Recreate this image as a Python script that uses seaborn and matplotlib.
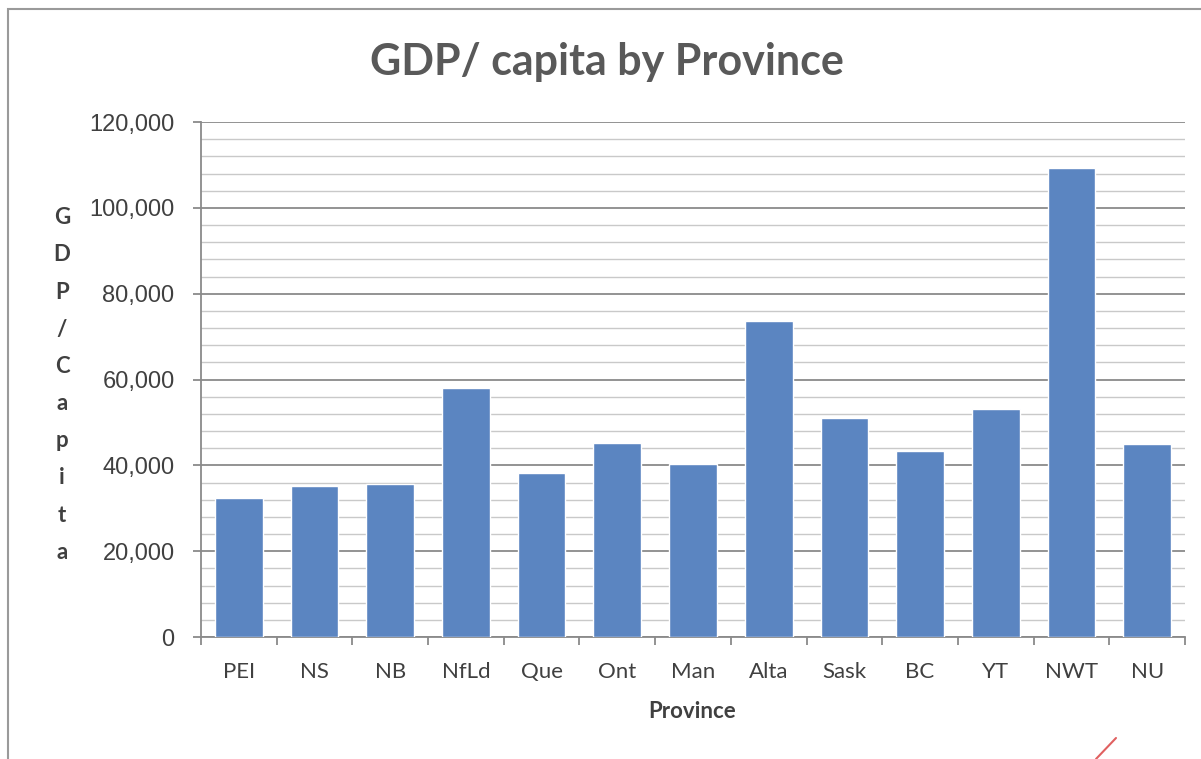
import matplotlib
matplotlib.use("Agg")
import matplotlib.pyplot as plt
import seaborn as sns
import pandas as pd
import numpy as np
from matplotlib.patches import Rectangle
from matplotlib.lines import Line2D

# Data
provinces = ["PEI", "NS", "NB", "NfLd", "Que", "Ont", "Man", "Alta", "Sask", "BC", "YT", "NWT", "NU"]
gdp_per_capita = [32500, 35200, 35700, 58000, 38200, 45200, 40400, 73700, 51000, 43400, 53100, 109300, 45000]
y_major = [0, 20000, 40000, 60000, 80000, 100000, 120000]
y_minor_step = 4000

BAR_COLOR = "#5b85c1"
TEXT_COLOR = "#404040"
TITLE_COLOR = "#595959"

sns.set_style("white")
plt.rcParams["font.family"] = ["Liberation Sans", "DejaVu Sans"]

df = pd.DataFrame({"Province": provinces, "GDP": gdp_per_capita})

fig = plt.figure(figsize=(12.01, 7.59), dpi=100)
ax = fig.add_axes([201 / 1201, 1 - 637 / 759, (1185 - 201) / 1201, (637 - 122) / 759])

sns.barplot(data=df, x="Province", y="GDP", color=BAR_COLOR, saturation=1,
            width=0.63, ax=ax, zorder=3)

# axes & grid
ax.set_ylim(0, 120000)
ax.set_xlim(-0.5, len(provinces) - 0.5)
ax.set_yticks(y_major)
ax.set_yticks(np.arange(0, 120001, y_minor_step), minor=True)
ax.set_yticklabels([f"{v:,}" for v in y_major], fontsize=17, color=TEXT_COLOR)
ax.grid(which="major", axis="y", color="#8a8a8a", lw=1.3, zorder=0)
ax.grid(which="minor", axis="y", color="#c9c9c9", lw=1.0, zorder=0)
ax.tick_params(axis="y", which="major", left=True, length=6, width=1.3,
               color="#8a8a8a", pad=13)
ax.tick_params(axis="y", which="minor", left=False, length=0)

ax.set_xticks(range(len(provinces)))
ax.set_xticklabels(provinces, fontsize=16, color=TEXT_COLOR, family=["Lato", "DejaVu Sans"])
ax.set_xticks(np.arange(-0.5, len(provinces)), minor=True)
ax.tick_params(axis="x", which="major", bottom=False, length=0, pad=18)
ax.tick_params(axis="x", which="minor", bottom=True, length=6, width=1.3,
               color="#8a8a8a", direction="out")

for side in ["top", "right"]:
    ax.spines[side].set_visible(False)
for side in ["left", "bottom"]:
    ax.spines[side].set_color("#8a8a8a")
    ax.spines[side].set_linewidth(1.3)

ax.set_xlabel("")
ax.set_ylabel("")

# labels
fig.text(607 / 1201, 1 - 62 / 759, "GDP/ capita by Province", ha="center", va="center",
         fontsize=31, fontweight="bold", color=TITLE_COLOR, family=["Lato", "DejaVu Sans"])
fig.text(692 / 1201, 1 - 712 / 759, "Province", ha="center", va="center",
         fontsize=16, fontweight="bold", color=TEXT_COLOR, family=["Lato", "DejaVu Sans"])
fig.text(62 / 1201, 1 - 385 / 759, "\n".join("GDP/Capita"), ha="center", va="center",
         fontsize=16, fontweight="bold", color=TEXT_COLOR, linespacing=1.95,
         family=["Lato", "DejaVu Sans"])

# outer chart frame from the scan
fig.add_artist(Rectangle((8 / 1201, -0.1), 1.2, 1.1 - 9 / 759, transform=fig.transFigure,
                         fill=False, edgecolor="#9a9a9a", lw=1.5))
fig.add_artist(Line2D([1096 / 1201, 1116 / 1201], [1 - 759 / 759, 1 - 738 / 759],
                      transform=fig.transFigure, color="#e06060", lw=1.5))

fig.savefig("out.png", dpi=100)
